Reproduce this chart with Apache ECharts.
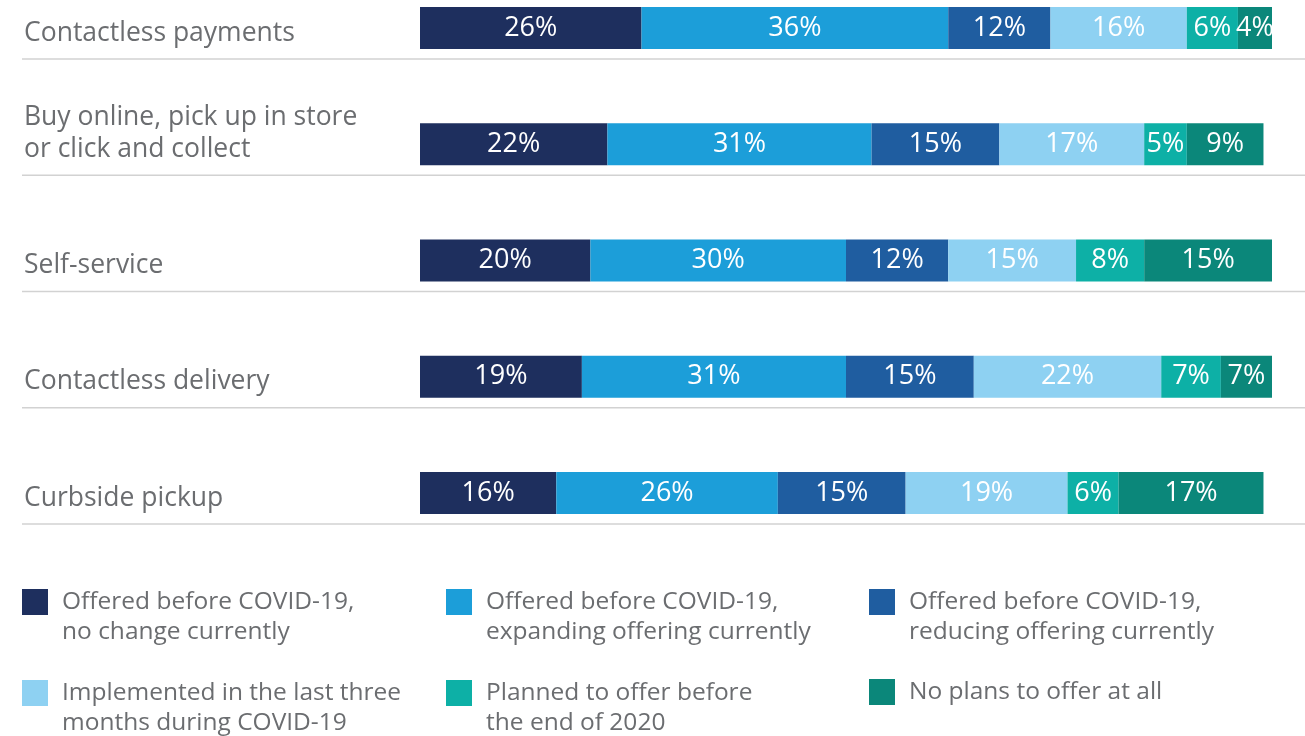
<!DOCTYPE html>
<html>
<head>
<meta charset="utf-8">
<script src="https://cdn.jsdelivr.net/npm/echarts@6/dist/echarts.min.js"></script>
<style>
  html, body { margin: 0; padding: 0; background: #fff; }
  #main { width: 1305px; height: 736px; }
</style>
</head>
<body>
<div id="main"></div>
<script>
var categories = [
    'Contactless payments',
    'Buy online, pick up in store\nor click and collect',
    'Self-service',
    'Contactless delivery',
    'Curbside pickup'
];
var seriesNames = [
    'Offered before COVID-19,\nno change currently',
    'Offered before COVID-19,\nexpanding offering currently',
    'Offered before COVID-19,\nreducing offering currently',
    'Implemented in the last three\nmonths during COVID-19',
    'Planned to offer before\nthe end of 2020',
    'No plans to offer at all'
];
var noChange   = [26, 22, 20, 19, 16];
var expanding  = [36, 31, 30, 31, 26];
var reducing   = [12, 15, 12, 15, 15];
var implemented = [16, 17, 15, 22, 19];
var planned    = [6, 5, 8, 7, 6];
var noPlans    = [4, 9, 15, 7, 17];
var colors = ['#1e2f5e', '#1c9ed9', '#1f5da0', '#8ed1f2', '#0db0a6', '#0b877a'];

var textGray = '#6b6d70';
var font = '"Open Sans", sans-serif';

var values = [noChange, expanding, reducing, implemented, planned, noPlans];

var series = values.map(function (arr, i) {
    return {
        name: seriesNames[i],
        type: 'bar',
        stack: 'total',
        barWidth: 42,
        itemStyle: { color: colors[i] },
        label: {
            show: true,
            position: 'inside',
            color: '#fff',
            fontFamily: font,
            fontSize: 27,
            formatter: '{c}%'
        },
        data: arr
    };
});

// row labels and separator lines, placed with the category axis
series.push({
    type: 'custom',
    silent: true,
    clip: false,
    encode: { x: 0, y: 1 },
    data: categories.map(function (c, i) { return [0, i]; }),
    renderItem: function (params, api) {
        var p = api.coord([0, api.value(1)]);
        var name = categories[params.dataIndex];
        var twoLines = name.indexOf('\n') >= 0;
        return {
            type: 'group',
            children: [{
                type: 'line',
                shape: { x1: 22, y1: p[1] + 31, x2: api.getWidth(), y2: p[1] + 31 },
                style: { stroke: '#d2d2d2', lineWidth: 1.5 }
            }, {
                type: 'text',
                style: {
                    x: 24,
                    y: p[1] + (twoLines ? -11 : 5),
                    text: name,
                    fill: textGray,
                    font: '26.5px ' + font,
                    lineHeight: 32,
                    align: 'left',
                    verticalAlign: 'middle'
                }
            }]
        };
    }
});

var legendPos = [
    { left: 22, top: 557, two: true },
    { left: 446, top: 557, two: true },
    { left: 869, top: 557, two: true },
    { left: 22, top: 648, two: true },
    { left: 446, top: 648, two: true },
    { left: 869, top: 677, two: false }
];
var legends = legendPos.map(function (p, i) {
    return {
        data: [seriesNames[i]],
        left: p.left,
        top: p.top,
        padding: 0,
        itemWidth: 26,
        itemHeight: 26,
        icon: 'rect',
        // a blank first line keeps the icon level with the first text line
        formatter: function (name) {
            return p.two ? ' \n' + name : name;
        },
        textStyle: {
            color: textGray,
            fontFamily: font,
            fontSize: 24.5,
            lineHeight: 30,
            padding: [0, 0, 0, 9]
        }
    };
});

var chart = echarts.init(document.getElementById('main'));
chart.setOption({
    animation: false,
    grid: { left: 420, right: 33, top: 28, height: 465 },
    xAxis: { type: 'value', min: 0, max: 100, show: false },
    yAxis: {
        type: 'category',
        inverse: true,
        boundaryGap: false,
        data: categories,
        axisLine: { show: false },
        axisTick: { show: false },
        axisLabel: { show: false }
    },
    legend: legends,
    series: series
});
</script>
</body>
</html>
